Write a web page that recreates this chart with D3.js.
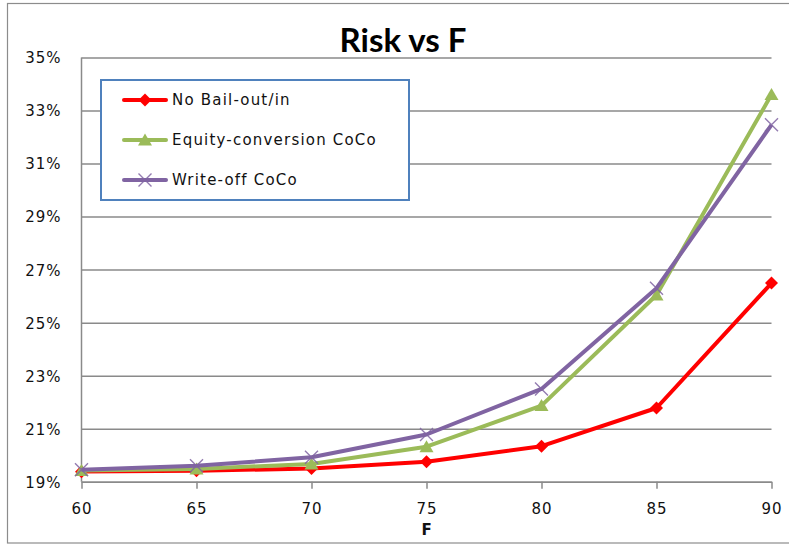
<!DOCTYPE html>
<html>
<head>
<meta charset="utf-8">
<script src="https://cdn.jsdelivr.net/npm/d3@7"></script>
<style>
  html, body { margin: 0; padding: 0; background: #fff; }
  svg { display: block; }
  .tick text { font-family: "DejaVu Sans", Verdana, sans-serif; font-size: 15px; fill: #111; letter-spacing: 1px; }
</style>
</head>
<body>
<svg id="chart" width="789" height="546"></svg>
<script>
// F values along the horizontal axis
const fValues = [60, 65, 70, 75, 80, 85, 90];
// Risk (fraction) for each scenario
const noBailout = [0.1938, 0.1941, 0.1950, 0.1975, 0.2034, 0.2178, 0.2649];
const equityCoCo = [0.1942, 0.1948, 0.1967, 0.2032, 0.2187, 0.2604, 0.3360];
const writeOffCoCo = [0.1945, 0.1960, 0.1992, 0.2078, 0.2250, 0.2630, 0.3246];
const seriesNames = ["No Bail-out/in", "Equity-conversion CoCo", "Write-off CoCo"];
const yTicks = [0.19, 0.21, 0.23, 0.25, 0.27, 0.29, 0.31, 0.33, 0.35];

const W = 789, H = 546;
const plot = { left: 81.5, right: 771.5, top: 57.5, bottom: 481.7 };

const svg = d3.select("#chart");

// outer chart frame
svg.append("rect")
  .attr("x", 7.5).attr("y", 3.5)
  .attr("width", W + 10).attr("height", 539.5)
  .attr("fill", "#fff").attr("stroke", "#8c8c8c").attr("stroke-width", 1.2);

const x = d3.scaleLinear().domain([60, 90]).range([plot.left, plot.right]);
const y = d3.scaleLinear().domain([0.19, 0.35]).range([plot.bottom, plot.top]);

// horizontal gridlines + y labels
const yAxis = svg.append("g")
  .attr("transform", `translate(${plot.left},0)`)
  .call(d3.axisLeft(y).tickValues(yTicks).tickFormat(d3.format(".0%"))
    .tickSizeInner(-(plot.right - plot.left)).tickSizeOuter(0).tickPadding(20));
yAxis.select(".domain").remove();
yAxis.selectAll(".tick line").attr("stroke", "#8a8a8a").attr("stroke-width", 1.5);
yAxis.selectAll(".tick text").attr("dy", "0.36em");

// vertical axis line
svg.append("line")
  .attr("x1", plot.left).attr("x2", plot.left)
  .attr("y1", plot.top).attr("y2", plot.bottom)
  .attr("stroke", "#8a8a8a").attr("stroke-width", 1.5);

// x axis
const xAxis = svg.append("g")
  .attr("transform", `translate(0,${plot.bottom})`)
  .call(d3.axisBottom(x).tickValues(fValues).tickSizeInner(7).tickSizeOuter(0).tickPadding(15));
xAxis.select(".domain").attr("stroke", "#8a8a8a").attr("stroke-width", 1.5);
xAxis.selectAll(".tick line").attr("stroke", "#8a8a8a").attr("stroke-width", 1.5);

// axis title
svg.append("text")
  .attr("x", x(75)).attr("y", 535)
  .attr("text-anchor", "middle")
  .attr("font-family", "DejaVu Sans, Verdana, sans-serif")
  .attr("font-size", 15).attr("font-weight", "bold").attr("fill", "#111")
  .text("F");

// chart title
svg.append("text")
  .attr("x", 403).attr("y", 52)
  .attr("text-anchor", "middle")
  .attr("font-family", "Lato, 'Open Sans', sans-serif")
  .attr("font-size", 33).attr("font-weight", "bold").attr("fill", "#000")
  .text("Risk vs F");

// marker shapes, drawn around (0,0)
const markerPaths = {
  diamond: "M0,-6.5L6.5,0L0,6.5L-6.5,0Z",
  triangle: "M0,-6.5L7,5.5L-7,5.5Z",
  cross: "M-6.5,-6.5L6.5,6.5M-6.5,6.5L6.5,-6.5"
};

const series = [
  { name: seriesNames[0], values: noBailout, color: "#ff0000", marker: "diamond" },
  { name: seriesNames[1], values: equityCoCo, color: "#9bbb59", marker: "triangle" },
  { name: seriesNames[2], values: writeOffCoCo, color: "#8064a2", marker: "cross" }
];

const line = d3.line().x(d => x(d[0])).y(d => y(d[1]));

function drawMarker(g, s, cx, cy) {
  const p = g.append("path")
    .attr("d", markerPaths[s.marker])
    .attr("transform", `translate(${cx},${cy})`);
  if (s.marker === "cross") {
    p.attr("fill", "none").attr("stroke", s.color).attr("stroke-width", 1.4).attr("opacity", 0.85);
  } else {
    p.attr("fill", s.color).attr("stroke", "none");
  }
}

series.forEach(s => {
  const pts = fValues.map((f, i) => [f, s.values[i]]);
  const g = svg.append("g");
  g.append("path")
    .attr("d", line(pts))
    .attr("fill", "none").attr("stroke", s.color)
    .attr("stroke-width", 4).attr("stroke-linejoin", "round");
  pts.forEach(p => drawMarker(g, s, x(p[0]), y(p[1])));
});

// legend
const legend = svg.append("g");
legend.append("rect")
  .attr("x", 101).attr("y", 80)
  .attr("width", 308).attr("height", 120)
  .attr("fill", "#fff").attr("stroke", "#4f81bd").attr("stroke-width", 2);

series.forEach((s, i) => {
  const ly = 100 + i * 40;
  legend.append("line")
    .attr("x1", 124).attr("x2", 166).attr("y1", ly).attr("y2", ly)
    .attr("stroke", s.color).attr("stroke-width", 4).attr("stroke-linecap", "round");
  drawMarker(legend, s, 145, ly);
  legend.append("text")
    .attr("x", 172).attr("y", ly).attr("dy", "0.36em")
    .attr("font-family", "DejaVu Sans, Verdana, sans-serif")
    .attr("font-size", 15).attr("letter-spacing", "1.2px").attr("fill", "#111")
    .text(s.name);
});
</script>
</body>
</html>
